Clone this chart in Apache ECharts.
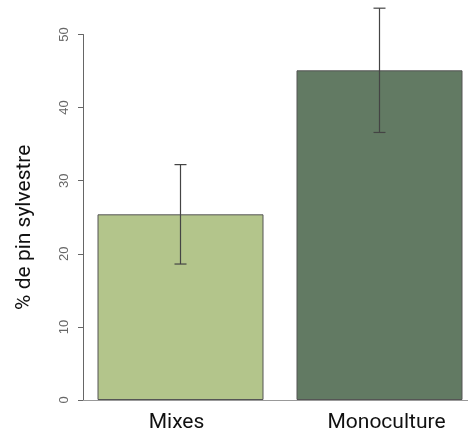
<!DOCTYPE html>
<html>
<head>
<meta charset="utf-8">
<script src="https://cdn.jsdelivr.net/npm/echarts@6/dist/echarts.min.js"></script>
<style>
  html, body { margin: 0; padding: 0; background: #fff; }
  #chart { width: 468px; height: 434px; }
</style>
</head>
<body>
<div id="chart"></div>
<script>
  // values
  var categories = ['Mixes', 'Monoculture'];
  var means = [25.4, 45.1];
  var lower = [18.6, 36.6];
  var upper = [32.2, 53.6];
  var barColors = ['#b3c58b', '#627a63'];

  // labels in the original sit a little off the bar centres
  var labelPads = [[0, 8, 0, 0], [0, 0, 0, 14]];

  var chart = echarts.init(document.getElementById('chart'));

  var option = {
    animation: false,
    grid: { left: 81, top: 34.5, width: 398, bottom: 34, outerBoundsMode: 'none', containLabel: false },
    xAxis: {
      type: 'category',
      data: categories.map(function (c, i) {
        return { value: c, textStyle: { padding: labelPads[i] } };
      }),
      axisLine: { lineStyle: { color: '#999', width: 1 } },
      axisTick: { show: false },
      axisLabel: { color: '#111', fontSize: 21, fontFamily: 'Roboto', margin: 12 }
    },
    yAxis: {
      type: 'value',
      min: 0,
      max: 50,
      interval: 10,
      offset: -2,
      name: '% de pin sylvestre',
      nameLocation: 'middle',
      nameGap: 48,
      nameTextStyle: { color: '#111', fontSize: 21, fontFamily: 'Roboto', padding: [0, 20, 0, 0] },
      splitLine: { show: false },
      axisLine: { show: true, lineStyle: { color: '#666', width: 1 } },
      axisTick: { show: true, length: 5, lineStyle: { color: '#666' } },
      axisLabel: { rotate: 90, color: '#666', fontSize: 13, fontFamily: 'Liberation Sans', margin: 12 }
    },
    series: [
      {
        type: 'bar',
        barWidth: 166,
        data: means.map(function (v, i) {
          return { value: v, itemStyle: { color: barColors[i] } };
        }),
        itemStyle: { borderColor: '#555', borderWidth: 1 }
      },
      {
        type: 'custom',
        data: categories.map(function (c, i) { return [i, lower[i], upper[i]]; }),
        renderItem: function (params, api) {
          var lo = api.coord([api.value(0), api.value(1)]);
          var hi = api.coord([api.value(0), api.value(2)]);
          var half = 6;
          var style = { stroke: '#444', lineWidth: 1.2, fill: null };
          return {
            type: 'group',
            children: [
              { type: 'line', shape: { x1: hi[0], y1: hi[1], x2: lo[0], y2: lo[1] }, style: style },
              { type: 'line', shape: { x1: hi[0] - half, y1: hi[1], x2: hi[0] + half, y2: hi[1] }, style: style },
              { type: 'line', shape: { x1: lo[0] - half, y1: lo[1], x2: lo[0] + half, y2: lo[1] }, style: style }
            ]
          };
        },
        z: 10
      }
    ]
  };

  chart.setOption(option);
</script>
</body>
</html>
